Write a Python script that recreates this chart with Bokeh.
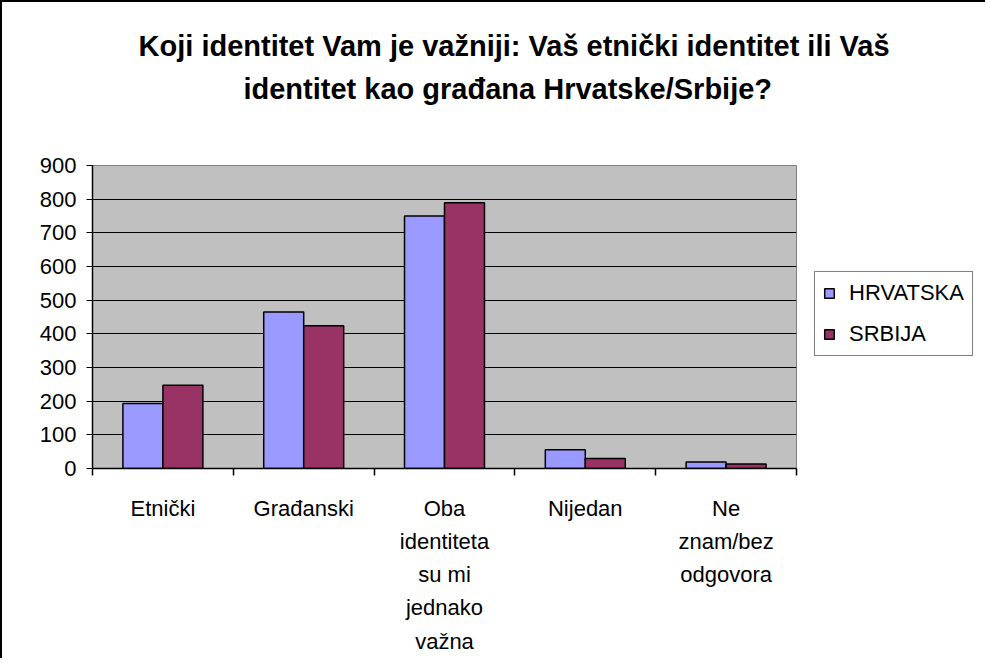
from bokeh.plotting import figure
from bokeh.models import FixedTicker, Legend, LegendItem, Title, ColumnDataSource
from bokeh.transform import dodge
from bokeh.embed import file_html
from bokeh.resources import INLINE

# ---- data ----
categories = ["Etnički", "Građanski", "Oba\nidentiteta\nsu mi\njednako\nvažna", "Nijedan", "Ne\nznam/bez\nodgovora"]
series = ["HRVATSKA", "SRBIJA"]
hrvatska = [193, 465, 750, 56, 19]
srbija = [247, 424, 789, 30, 13]
y_ticks = [0, 100, 200, 300, 400, 500, 600, 700, 800, 900]
title_lines = ["Koji identitet Vam je važniji: Vaš etnički identitet ili Vaš",
               "identitet kao građana Hrvatske/Srbije?"]
colors = ["#9999FF", "#993366"]

FONT = "Liberation Sans"
FS = "22px"

idx = list(range(len(categories)))
src = ColumnDataSource(dict(x=idx, hr=hrvatska, sr=srbija))

FW, FH = 704, 303
ML, MR, MT, MB = 90, 175, 163, 190
p = figure(frame_width=FW, frame_height=FH, min_border_left=ML, min_border_right=MR,
           min_border_top=MT, min_border_bottom=MB,
           x_range=(-0.5, len(categories) - 0.5), y_range=(0, 900),
           output_backend="svg", toolbar_location=None)
p.styles = {"border-left": "2px solid black", "border-top": "2px solid black"}

p.background_fill_color = "#C0C0C0"
p.border_fill_color = "white"
p.outline_line_color = "#808080"
p.outline_line_width = 1

bw = 0.284
r1 = p.vbar(x=dodge("x", -bw / 2, range=p.x_range), top="hr", width=bw, source=src,
            fill_color=colors[0], line_color="black", line_width=1.5)
r2 = p.vbar(x=dodge("x", bw / 2, range=p.x_range), top="sr", width=bw, source=src,
            fill_color=colors[1], line_color="black", line_width=1.5)

# grid
p.xgrid.visible = False
p.ygrid.ticker = FixedTicker(ticks=y_ticks)
p.ygrid.grid_line_color = "black"
p.ygrid.grid_line_width = 1
p.ygrid.level = "underlay"

# y axis
ya = p.yaxis[0]
ya.ticker = FixedTicker(ticks=y_ticks)
ya.axis_line_color = "black"
ya.axis_line_width = 1.5
ya.major_tick_in = 0
ya.major_tick_out = 6
ya.major_tick_line_color = "black"
ya.minor_tick_out = 0
ya.minor_tick_in = 0
ya.major_label_text_font = FONT
ya.major_label_text_font_size = FS
ya.major_label_text_color = "black"
ya.major_label_standoff = 10

# x axis
xa = p.xaxis[0]
xa.ticker = FixedTicker(ticks=idx, minor_ticks=[i - 0.5 for i in range(len(categories) + 1)])
xa.major_label_overrides = {i: c for i, c in zip(idx, categories)}
xa.axis_line_color = "black"
xa.axis_line_width = 1.5
xa.major_tick_in = 0
xa.major_tick_out = 0
xa.minor_tick_in = 0
xa.minor_tick_out = 7
xa.minor_tick_line_color = "black"
xa.minor_tick_line_width = 1.5
xa.major_label_text_font = FONT
xa.major_label_text_font_size = FS
xa.major_label_text_color = "black"
xa.major_label_text_line_height = 1.33
xa.major_label_standoff = 20

# legend (in the right side panel)
legend = Legend(items=[LegendItem(label=series[0], renderers=[r1]),
                       LegendItem(label=series[1], renderers=[r2])],
                location=(18, 112), margin=0, padding=8, spacing=15,
                glyph_width=12, glyph_height=12, label_height=20, label_standoff=14,
                label_text_font=FONT, label_text_font_size=FS, label_text_color="black",
                border_line_color="black", border_line_width=1.5,
                background_fill_color="white", background_fill_alpha=1)
p.add_layout(legend, "right")

# spacer between the frame and the title lines
p.add_layout(Title(text=" ", text_font_size="1px", standoff=52), "above")

# title: two lines, each left-aligned at an offset that centres it
TITLE_FS = 29
title_em = [26.065, 18.83]      # Arial-bold widths of the two lines, in em
centre = 514 - ML
standoffs = [6, 12]
for line, em, so in reversed(list(zip(title_lines, title_em, standoffs))):
    off = centre - em * TITLE_FS / 2
    p.add_layout(Title(text=line, align="left", offset=off, standoff=so,
                       text_font=FONT, text_font_size=f"{TITLE_FS}px", text_font_style="bold",
                       text_color="black"), "above")

open("out.html", "w").write(file_html(p, INLINE))
